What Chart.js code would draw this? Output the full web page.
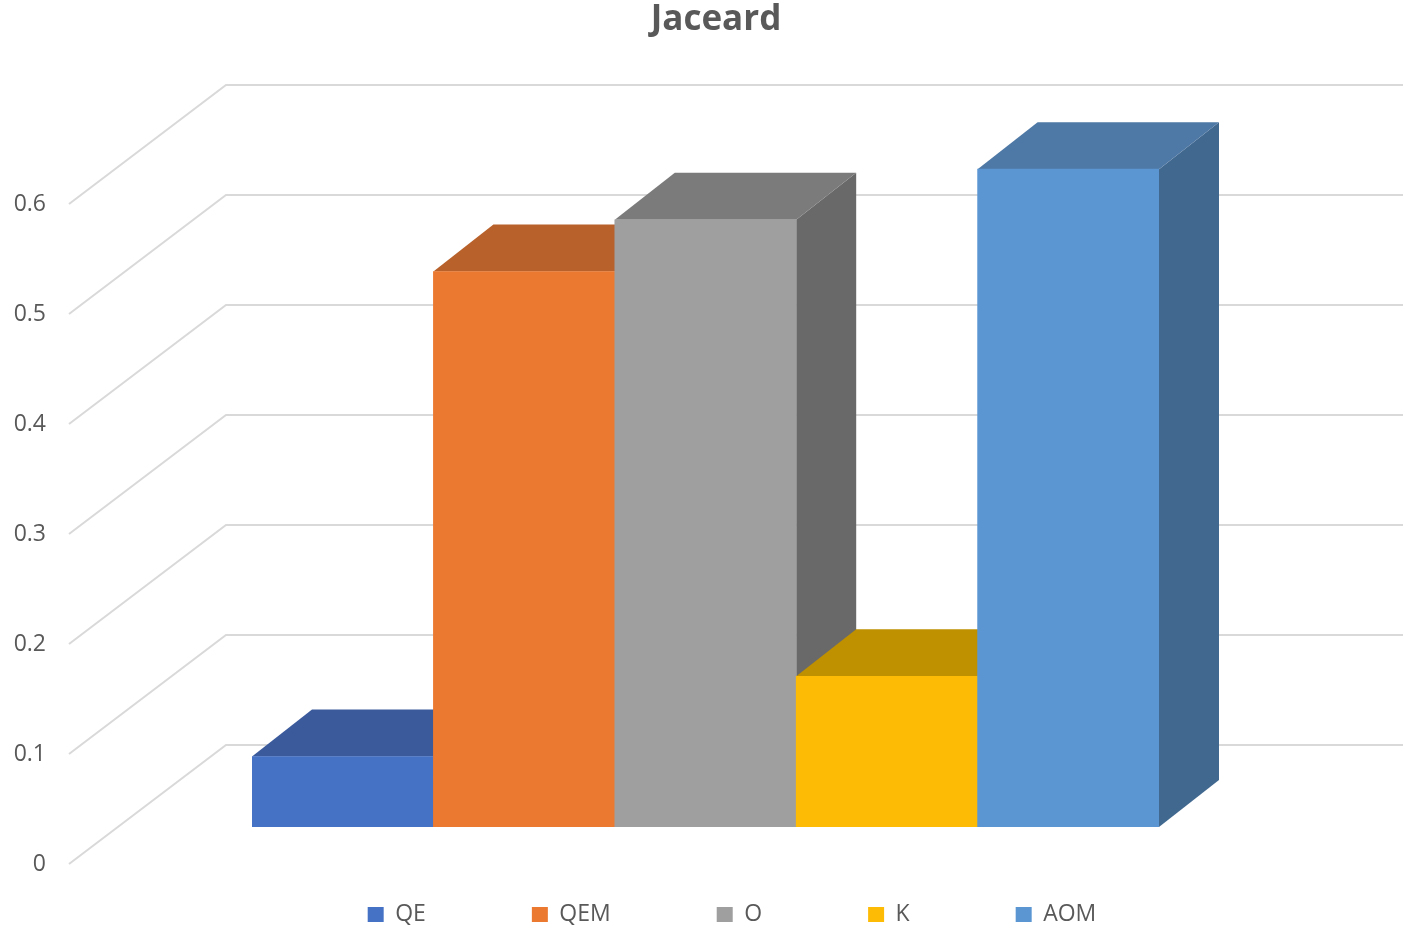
<!DOCTYPE html>
<html>
<head>
<meta charset="utf-8">
<title>Jaceard</title>
<script src="https://cdn.jsdelivr.net/npm/chart.js@4"></script>
<style>
  html, body { margin: 0; padding: 0; background: #fff; }
  #wrap { width: 1415px; height: 930px; }
</style>
</head>
<body>
<div id="wrap"><canvas id="myChart"></canvas></div>
<script>
const categories = ['QE', 'QEM', 'O', 'K', 'AOM'];
const jaccardValues = [0.064, 0.505, 0.552, 0.137, 0.598];
const yTickLabels = ['0', '0.1', '0.2', '0.3', '0.4', '0.5', '0.6'];

const frontColors = ['#4672C6', '#EB7A30', '#9F9F9F', '#FDBB06', '#5B96D3'];
const topColors = ['#3B5A9C', '#B8612A', '#7B7B7B', '#BF9000', '#4E78A5'];
const sideColors = ['#2F4F8A', '#A05020', '#696969', '#A67C00', '#41688F'];

// how far the box faces and the back wall sit behind the bar plane
const depthX = 60;
const depthY = 47;
const wallX = 226;
const wallRight = 1403;
const wallDrop = 82;
const floorX = 69;
const floorDrop = 37;

const textColor = '#595959';
const fontName = '"Open Sans", sans-serif';

const wall3d = {
    id: 'wall3d',
    beforeLayout(chart) {
        // legend items need wide gaps, but the padding must not eat the plot height
        const legend = chart.legend;
        if (!legend.wrapped) {
            const fit = legend.fit;
            legend.fit = function () { fit.call(this); this.height = 103; };
            legend.wrapped = true;
        }
    },
    afterLayout(chart) {
        const title = chart.titleBlock;
        title.left = 0;
        title.right = 1432;
        title.top = -1;
        const legend = chart.legend;
        const shift = 732 - (legend.left + legend.right) / 2;
        legend.left += shift;
        legend.right += shift;
        legend.top = 903 - legend.options.labels.padding;
        legend.bottom = 930;
    },
    beforeDatasetsDraw(chart) {
        const ctx = chart.ctx;
        const y = chart.scales.y;
        const bars = chart.getDatasetMeta(0).data;

        // back wall lines and the floor diagonals
        ctx.save();
        ctx.strokeStyle = '#D9D9D9';
        ctx.lineWidth = 2;
        y.ticks.forEach(t => {
            const py = y.getPixelForValue(t.value);
            ctx.beginPath();
            ctx.moveTo(floorX, py + floorDrop);
            ctx.lineTo(wallX, py - wallDrop);
            ctx.lineTo(wallRight, py - wallDrop);
            ctx.stroke();
        });
        ctx.restore();

        // side and top faces, left to right, so later bars overlap earlier ones
        bars.forEach((bar, i) => {
            const left = bar.x - bar.width / 2;
            const right = bar.x + bar.width / 2;
            ctx.fillStyle = sideColors[i];
            ctx.beginPath();
            ctx.moveTo(right, bar.y);
            ctx.lineTo(right + depthX, bar.y - depthY);
            ctx.lineTo(right + depthX, bar.base - depthY);
            ctx.lineTo(right, bar.base);
            ctx.closePath();
            ctx.fill();
            ctx.fillStyle = topColors[i];
            ctx.beginPath();
            ctx.moveTo(left, bar.y);
            ctx.lineTo(left + depthX, bar.y - depthY);
            ctx.lineTo(right + depthX, bar.y - depthY);
            ctx.lineTo(right, bar.y);
            ctx.closePath();
            ctx.fill();
        });
    }
};

new Chart(document.getElementById('myChart'), {
    type: 'bar',
    plugins: [wall3d],
    data: {
        labels: categories,
        datasets: [{
            label: 'Jaceard',
            data: jaccardValues,
            backgroundColor: frontColors,
            barPercentage: 1,
            categoryPercentage: 1
        }]
    },
    options: {
        responsive: true,
        maintainAspectRatio: false,
        animation: false,
        layout: { padding: { left: 0, right: 256, top: 0, bottom: 0 } },
        scales: {
            x: { display: false },
            y: {
                min: 0,
                max: 0.6,
                afterFit(scale) {
                    scale.width = 252;
                    // tick padding would otherwise be added above and below the plot too
                    scale.paddingTop = 0;
                    scale.paddingBottom = 0;
                },
                grid: { display: false, drawTicks: false },
                border: { display: false },
                ticks: {
                    stepSize: 0.1,
                    padding: 206,
                    labelOffset: 37,
                    color: textColor,
                    font: { family: fontName, size: 23 },
                    callback: (v, i) => yTickLabels[i]
                }
            }
        },
        plugins: {
            tooltip: { enabled: false },
            title: {
                display: true,
                text: 'Jaceard',
                color: textColor,
                font: { family: fontName, size: 35, weight: 'bold' },
                padding: { top: 0, bottom: 125 }
            },
            legend: {
                position: 'bottom',
                labels: {
                    boxWidth: 16,
                    boxHeight: 15,
                    padding: 106,
                    font: { family: fontName, size: 23 },
                    generateLabels: () => categories.map((c, i) => ({
                        text: c,
                        fillStyle: frontColors[i],
                        strokeStyle: frontColors[i],
                        lineWidth: 0,
                        fontColor: textColor,
                        hidden: false,
                        index: i
                    }))
                }
            }
        }
    }
});
</script>
</body>
</html>
